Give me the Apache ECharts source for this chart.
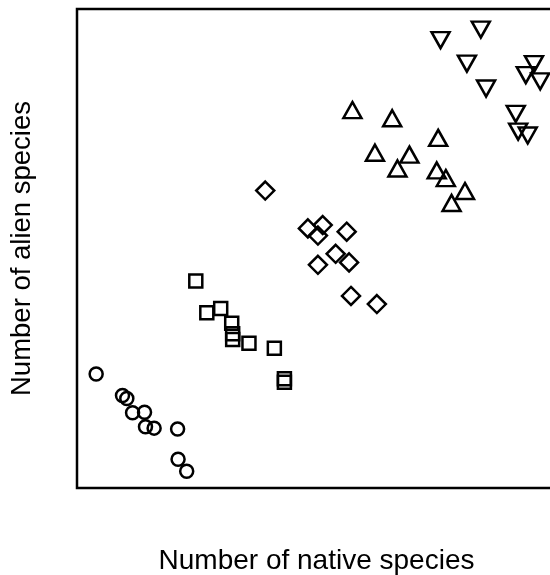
<!DOCTYPE html>
<html><head><meta charset="utf-8">
<script src="https://cdn.jsdelivr.net/npm/echarts@6/dist/echarts.min.js"></script>
<style>html,body{margin:0;padding:0;background:#fff}#c{width:550px;height:575px}</style>
</head><body><div id="c"></div>
<script>
// [native, alien]
var circles = [[4.0,23.8],[9.5,19.3],[10.4,18.7],[11.6,15.7],[14.1,15.8],[14.3,12.8],[16.1,12.5],[21.0,12.3],[21.1,6.0],[22.9,3.5]];
var squares = [[24.8,43.2],[27.1,36.6],[30.0,37.5],[32.3,34.4],[32.5,32.2],[32.5,31.0],[35.9,30.2],[41.2,29.2],[43.3,22.8],[43.3,22.1]];
var diamonds = [[39.3,62.1],[48.2,54.2],[51.3,54.9],[50.3,52.7],[56.3,53.5],[54.0,48.9],[50.3,46.6],[56.8,47.1],[57.2,40.1],[62.6,38.4]];
var upTriangles = [[57.5,78.9],[65.8,77.2],[75.4,73.1],[62.2,70.0],[69.4,69.6],[66.9,66.7],[75.1,66.3],[77.0,64.7],[81.0,62.0],[78.2,59.5]];
var downTriangles = [[75.9,93.5],[84.3,95.7],[81.4,88.6],[85.4,83.4],[95.4,88.5],[93.7,86.2],[96.7,84.9],[91.6,78.1],[92.1,74.4],[94.1,73.6]];
var xTitle = 'Number of native species';
var yTitle = 'Number of alien species';

var style = {color:'none', borderColor:'#000', borderWidth:2.5, opacity:1};
function s(data, symbol, size, rot){
  return {type:'scatter', data:data, symbol:symbol, symbolSize:size, symbolRotate:rot||0,
    itemStyle:style, silent:true, clip:false};
}
var chart = echarts.init(document.getElementById('c'), null, {renderer:'canvas'});
chart.setOption({
  animation:false,
  backgroundColor:'#fff',
  grid:{left:77, top:9, width:479, height:479, outerBoundsMode:'none', containLabel:false,
    show:true, borderColor:'#000', borderWidth:2.5, backgroundColor:'transparent'},
  xAxis:{type:'value', min:0, max:100, axisLine:{show:false}, axisTick:{show:false}, axisLabel:{show:false}, splitLine:{show:false},
    name:xTitle, nameLocation:'middle', nameGap:59, nameTextStyle:{fontFamily:'Liberation Sans', fontSize:28, color:'#000'}},
  yAxis:{type:'value', min:0, max:100, axisLine:{show:false}, axisTick:{show:false}, axisLabel:{show:false}, splitLine:{show:false},
    name:yTitle, nameLocation:'middle', nameGap:41, nameTextStyle:{fontFamily:'Liberation Sans', fontSize:27.5, color:'#000'}},
  series:[
    s(circles,'circle',13),
    s(squares,'rect',13),
    s(diamonds,'diamond',18),
    s(upTriangles,'triangle',[18,16]),
    s(downTriangles,'triangle',[18,16],180)
  ]
});
</script></body></html>
